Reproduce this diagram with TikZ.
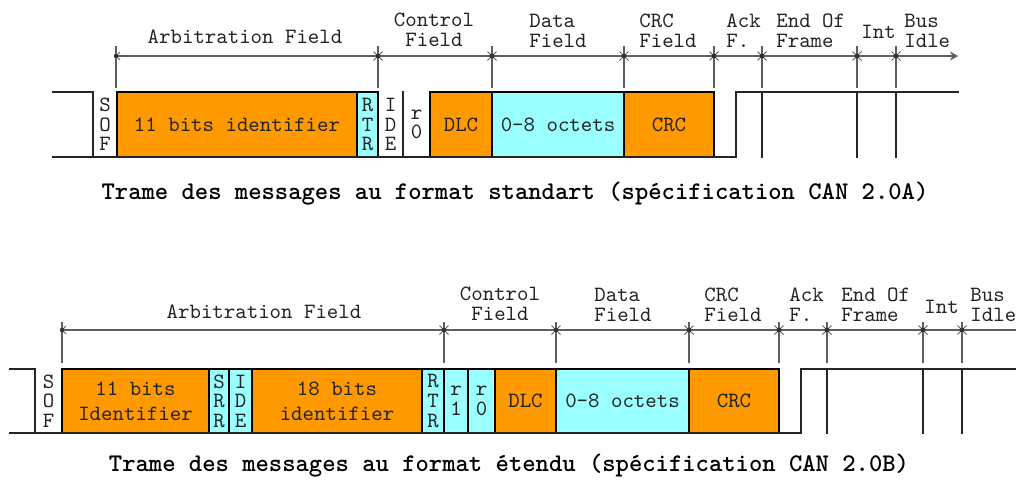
\documentclass[tikz,border=0pt]{standalone}
\usepackage{fontspec}
\usetikzlibrary{arrows.meta}
\definecolor{canorange}{RGB}{255,153,0}
\definecolor{cancyan}{RGB}{153,255,255}
\definecolor{dimgray}{RGB}{95,95,95}
\definecolor{txtc}{RGB}{35,35,35}
\newcommand\boxfont{\ttfamily\fontsize{10.9}{9.8}\selectfont}
\newcommand\lblfont{\ttfamily\fontsize{10.9}{9.9}\selectfont}
\newcommand\capfont{\ttfamily\bfseries\fontsize{12.7}{13}\selectfont}
\newcommand\cellbox[7]{%
  \pgfmathsetmacro\cbw{(#3-#2)*0.5}%
  \pgfmathsetmacro\cbh{(#5-#4)*0.5}%
  \node[#6, minimum width=\cbw pt, minimum height=\cbh pt] (#1) at ({(#2+#3)/2},{(#4+#5)/2}) {#7};}
\newcommand\startick[2]{%
  \draw[dimline, line width=0.5pt] ({#1-4.5},{#2-4.5}) -- ({#1+4.5},{#2+4.5}) ({#1-4.5},{#2+4.5}) -- ({#1+4.5},{#2-4.5});
  \fill[black!80] (#1,#2) circle (1.2pt);}
\newcommand\lefttick[2]{%
  \draw[dimline, line width=0.5pt] ({#1+4},{#2-4}) -- (#1,#2) -- ({#1+4},{#2+4});
  \fill[black!80] (#1,#2) circle (1.1pt);}
\tikzset{
  cell/.style={draw=black, line width=1.1pt, inner sep=0pt, outer sep=0pt, font=\boxfont, text=txtc, align=center},
  celltext/.style={inner sep=0pt, outer sep=0pt, font=\boxfont, text=txtc, align=center},
  lbl/.style={font=\lblfont, text=txtc, inner sep=0pt, align=left},
  lblc/.style={font=\lblfont, text=txtc, inner sep=0pt, align=center},
  sig/.style={line width=1.2pt, black!85, line cap=rect},
  dimline/.style={dimgray, line width=0.75pt},
  extline/.style={dimgray, line width=0.75pt},
  caption/.style={font=\capfont, text=black, inner sep=0pt}
}
\begin{document}
\begin{tikzpicture}[x=0.5pt, y=-0.5pt]
\useasboundingbox (0,0) rectangle (1016,479);

% ================= standard frame (CAN 2.0A) =================
\cellbox{sofA}{93}{117}{92}{157}{celltext}{S\\O\\F}
\cellbox{idA}{117}{357}{92}{157}{cell,fill=canorange}{11 bits identifier}
\cellbox{rtrA}{357}{378}{92}{157}{cell,fill=cancyan}{R\\T\\R}
\cellbox{ideA}{378}{403}{92}{157}{celltext}{I\\D\\E}
\cellbox{rzA}{403}{430}{92}{157}{celltext}{r\\0}
\cellbox{dlcA}{430}{492}{92}{157}{cell,fill=canorange}{DLC}
\cellbox{datA}{492}{624}{92}{157}{cell,fill=cancyan}{0-8 octets}
\cellbox{crcA}{624}{714}{92}{157}{cell,fill=canorange}{CRC}

\draw[sig] (53,92) -- (93,92) -- (93,157);
\draw[sig] (53,157) -- (736,157) -- (736,92) -- (958,92);
\draw[sig] (403,92) -- (403,157);
\foreach \xx in {762,857,896} \draw[sig] (\xx,92) -- (\xx,157);

\coordinate (aL) at (116,56);
\coordinate (aR) at (958,56);
\draw[dimline, -{Stealth[length=4pt,width=4.5pt]}] (aL) -- (aR);
\foreach \xx in {116,378,492,624,714,762,857,896} \draw[extline] (\xx,46) -- (\xx,88);
\lefttick{116}{56}
\foreach \xx in {378,492,624,714,762,857,896} {\startick{\xx}{56}}

\node[lblc] (arbA) at (245,37) {Arbitration Field};
\node[lblc] (ctlA) at (434,30) {Control\\Field};
\node[lbl, anchor=west] (datLA) at (529,31) {Data\\Field};
\node[lbl, anchor=west] (crcLA) at (639,31) {CRC\\Field};
\node[lbl, anchor=west] (ackLA) at (726,31) {Ack\\F.};
\node[lbl, anchor=west] (eofLA) at (776,31) {End Of\\Frame};
\node[lbl, anchor=west] (intLA) at (861,32) {Int};
\node[lbl, anchor=west] (busLA) at (904,31) {Bus\\Idle};

\node[caption] (capA) at (515,194) {Trame des messages au format standart (spécification CAN 2.0A)};

% ================= extended frame (CAN 2.0B) =================
\cellbox{sofB}{35}{62}{369}{433}{celltext}{S\\O\\F}
\cellbox{idB}{62}{209}{369}{433}{cell,fill=canorange}{11 bits\\[2.5pt]Identifier}
\cellbox{srrB}{209}{229}{369}{433}{cell,fill=cancyan}{S\\R\\R}
\cellbox{ideB}{229}{252}{369}{433}{cell,fill=cancyan}{I\\D\\E}
\cellbox{idxB}{252}{422}{369}{433}{cell,fill=canorange}{18 bits\\[2.5pt]identifier}
\cellbox{rtrB}{422}{444}{369}{433}{cell,fill=cancyan}{R\\T\\R}
\cellbox{roneB}{444}{468}{369}{433}{cell,fill=cancyan}{r\\1}
\cellbox{rzB}{468}{495}{369}{433}{cell,fill=cancyan}{r\\0}
\cellbox{dlcB}{495}{556}{369}{433}{cell,fill=canorange}{DLC}
\cellbox{datB}{556}{689}{369}{433}{cell,fill=cancyan}{0-8 octets}
\cellbox{crcB}{689}{779}{369}{433}{cell,fill=canorange}{CRC}

\draw[sig] (10,369) -- (35,369) -- (35,433);
\draw[sig] (10,433) -- (801,433) -- (801,369) -- (1016,369);
\foreach \xx in {827,923,962} \draw[sig] (\xx,369) -- (\xx,433);

\coordinate (bL) at (62,330);
\coordinate (bR) at (1016,330);
\draw[dimline] (bL) -- (bR);
\foreach \xx in {62,444,556,689,779,827,923,962} \draw[extline] (\xx,322) -- (\xx,363);
\lefttick{62}{330}
\foreach \xx in {444,556,689,779,827,923,962} {\startick{\xx}{330}}

\node[lblc] (arbB) at (264,312) {Arbitration Field};
\node[lblc] (ctlB) at (500,304) {Control\\Field};
\node[lbl, anchor=west] (datLB) at (594,305) {Data\\Field};
\node[lbl, anchor=west] (crcLB) at (704,305) {CRC\\Field};
\node[lbl, anchor=west] (ackLB) at (789,305) {Ack\\F.};
\node[lbl, anchor=west] (eofLB) at (841,305) {End Of\\Frame};
\node[lbl, anchor=west] (intLB) at (924,307) {Int};
\node[lbl, anchor=west] (busLB) at (970,305) {Bus\\Idle};

\node[caption] (capB) at (509,466) {Trame des messages au format étendu (spécification CAN 2.0B)};
\end{tikzpicture}
\end{document}
